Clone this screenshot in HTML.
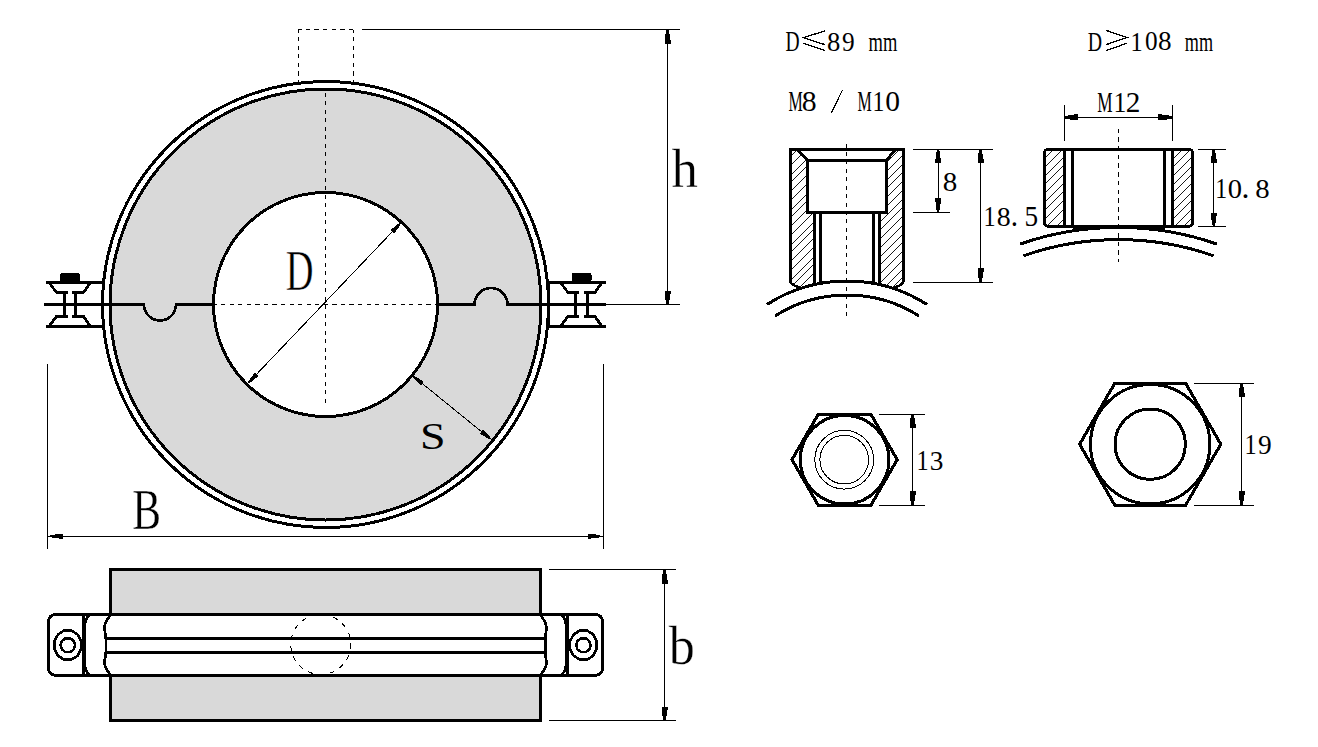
<!DOCTYPE html>
<html><head><meta charset="utf-8"><style>
html,body{margin:0;padding:0;background:#fff;width:1318px;height:747px;overflow:hidden;position:relative}
text{font-family:"Liberation Serif",serif;fill:#000}
</style></head><body>
<svg width="1318" height="747" viewBox="0 0 1318 747" style="position:absolute;left:0;top:0">
<rect x="0" y="0" width="1318" height="747" fill="#fff"/>
<g fill="none" stroke="#000" stroke-linecap="butt" shape-rendering="crispEdges">
<path d="M110.0,304.5 a215.5,215.5 0 1,0 431,0 a215.5,215.5 0 1,0 -431,0 Z M213.5,304.5 a112,112 0 1,0 224,0 a112,112 0 1,0 -224,0 Z" fill="#d9d9d9" fill-rule="evenodd" stroke="none"/>
<circle cx="325.5" cy="304.5" r="223" stroke-width="3"/>
<circle cx="325.5" cy="304.5" r="215.5" stroke-width="3"/>
<circle cx="325.5" cy="304.5" r="112" stroke-width="3"/>
<path d="M44,304.5 L144,304.5 A16,16 0 0,0 176,304.5 L213.5,304.5" stroke-width="2.6"/>
<path d="M437.5,304.5 L474.5,304.5 A16.5,16.5 0 0,1 507.5,304.5 L606,304.5" stroke-width="2.6"/>
<line x1="606" y1="304.5" x2="680" y2="304.5" stroke-width="1.0" />
<line x1="213.5" y1="304.5" x2="437.5" y2="304.5" stroke-width="1.0" stroke-dasharray="4.2 4.35" stroke-dashoffset="0.9"/>
<line x1="325.5" y1="89" x2="325.5" y2="406" stroke-width="1.0" stroke-dasharray="4.2 4.3" stroke-dashoffset="5.0"/>
<path d="M298.4,29.5 L298.4,82 M298.4,29.5 L353.5,29.5 M353.5,29.5 L353.5,82" stroke-width="1.0" stroke-dasharray="4.3 4.3" stroke-dashoffset="1.2"/>
<line x1="362" y1="29.5" x2="680" y2="29.5" stroke-width="1.0" />
<line x1="667.5" y1="29.5" x2="667.5" y2="304.5" stroke-width="1.0" />
<polygon points="666.60,29.50 665.50,33.70 664.95,39.58 664.50,39.58 664.50,43.50 670.50,43.50 670.50,39.58 670.05,39.58 669.50,33.70 668.40,29.50" fill="#000" stroke="none"/>
<polygon points="668.40,304.50 669.50,300.30 670.05,294.42 670.50,294.42 670.50,290.50 664.50,290.50 664.50,294.42 664.95,294.42 665.50,300.30 666.60,304.50" fill="#000" stroke="none"/>
<text transform="translate(671.62,186.80) scale(0.2637,0.2791)" font-size="200" stroke="#fff" stroke-width="0.35" vector-effect="non-scaling-stroke">h</text>
<line x1="400.5" y1="223.1" x2="248.4" y2="382.8" stroke-width="1.0" />
<polygon points="400.00,222.62 396.91,224.65 393.13,228.01 392.88,227.77 390.56,230.20 393.89,233.38 396.21,230.94 395.96,230.70 399.13,226.76 401.00,223.58" fill="#000" stroke="none"/>
<polygon points="248.90,383.28 251.99,381.25 255.77,377.89 256.02,378.13 258.34,375.70 255.01,372.52 252.69,374.96 252.94,375.20 249.77,379.14 247.90,382.32" fill="#000" stroke="none"/>
<text transform="translate(285.75,289.80) scale(0.1923,0.2821)" font-size="200" stroke="#fff" stroke-width="0.35" vector-effect="non-scaling-stroke">D</text>
<line x1="413.1" y1="376.1" x2="490.7" y2="439.1" stroke-width="1.0" />
<polygon points="412.67,376.64 414.93,379.56 418.58,383.06 418.36,383.33 420.97,385.45 423.87,381.88 421.26,379.76 421.04,380.03 416.86,377.18 413.53,375.56" fill="#000" stroke="none"/>
<polygon points="491.13,438.56 488.87,435.64 485.22,432.14 485.44,431.87 482.83,429.75 479.93,433.32 482.54,435.44 482.76,435.17 486.94,438.02 490.27,439.64" fill="#000" stroke="none"/>
<text transform="translate(420.01,448.62) scale(0.2302,0.1896)" font-size="200" stroke="#d9d9d9" stroke-width="0.0" vector-effect="non-scaling-stroke">S</text>
<line x1="47.5" y1="364" x2="47.5" y2="548.5" stroke-width="1.0" />
<line x1="603.2" y1="364" x2="603.2" y2="548.5" stroke-width="1.0" />
<line x1="47.5" y1="536.3" x2="603.2" y2="536.3" stroke-width="1.0" />
<polygon points="50.30,537.08 54.05,538.03 59.30,538.51 59.30,538.90 62.80,538.90 62.80,533.70 59.30,533.70 59.30,534.09 54.05,534.57 50.30,535.52" fill="#000" stroke="none"/>
<polygon points="600.40,535.52 596.65,534.57 591.40,534.09 591.40,533.70 587.90,533.70 587.90,538.90 591.40,538.90 591.40,538.51 596.65,538.03 600.40,537.08" fill="#000" stroke="none"/>
<text transform="translate(132.20,528.82) scale(0.2161,0.2818)" font-size="200" stroke="#fff" stroke-width="0.35" vector-effect="non-scaling-stroke">B</text>
<rect x="60" y="273.2" width="20" height="8.6" rx="1.5" fill="#000" stroke="none"/>
<path d="M46,282.5 L102.8,282.5" stroke-width="2.4"/>
<path d="M49,282.5 L56.5,292.5 L67.95,292.5" stroke-width="2.8"/>
<path d="M90.5,282.5 L83.5,292.5 L72.05,292.5" stroke-width="2.8"/>
<path d="M46,326.5 L102.8,326.5" stroke-width="2.4"/>
<path d="M49,326.5 L56.5,316.5 L67.95,316.5" stroke-width="2.8"/>
<path d="M90.5,326.5 L83.5,316.5 L72.05,316.5" stroke-width="2.8"/>
<line x1="64.75" y1="292.5" x2="64.75" y2="316.5" stroke-width="3" />
<line x1="75.25" y1="292.5" x2="75.25" y2="316.5" stroke-width="3" />
<line x1="102.8" y1="282.5" x2="102.8" y2="326.5" stroke-width="2.6" />
<rect x="571.5" y="273.2" width="20" height="8.6" rx="1.5" fill="#000" stroke="none"/>
<path d="M548.2,282.5 L605.5,282.5" stroke-width="2.4"/>
<path d="M560.5,282.5 L568.0,292.5 L578.6500000000001,292.5" stroke-width="2.8"/>
<path d="M602.0,282.5 L595.0,292.5 L584.3499999999999,292.5" stroke-width="2.8"/>
<path d="M548.2,326.5 L605.5,326.5" stroke-width="2.4"/>
<path d="M560.5,326.5 L568.0,316.5 L578.6500000000001,316.5" stroke-width="2.8"/>
<path d="M602.0,326.5 L595.0,316.5 L584.3499999999999,316.5" stroke-width="2.8"/>
<line x1="575.45" y1="292.5" x2="575.45" y2="316.5" stroke-width="3" />
<line x1="587.55" y1="292.5" x2="587.55" y2="316.5" stroke-width="3" />
<line x1="548.2" y1="282.5" x2="548.2" y2="326.5" stroke-width="2.6" />
<rect x="110.45" y="569.5" width="430.05" height="150.9" fill="#d9d9d9" stroke-width="3"/>
<path d="M55.5,614.5 L595.5,614.5 A7,7 0 0,1 602.5,621.5 L602.5,668.3 A7,7 0 0,1 595.5,675.3 L55.5,675.3 A7,7 0 0,1 48.5,668.3 L48.5,621.5 A7,7 0 0,1 55.5,614.5 Z" fill="#fff" stroke-width="3"/>
<line x1="83.6" y1="614.5" x2="83.6" y2="675.3" stroke-width="3" />
<line x1="567.4" y1="614.5" x2="567.4" y2="675.3" stroke-width="3" />
<path d="M90,615 Q85,618 85,626 L85,664 Q85,672 90,675" stroke-width="2.6"/>
<path d="M561,615 Q566,618 566,626 L566,664 Q566,672 561,675" stroke-width="2.6"/>
<path d="M110.5,615 Q103.5,624 104.5,630 Q105.8,634 105.8,638.6 L105.8,652.4 Q105.8,657 104.5,661 Q103.5,666 110.5,675" stroke-width="2.6"/>
<path d="M540.5,615 Q547.5,624 546.5,630 Q545.2,634 545.2,638.6 L545.2,652.4 Q545.2,657 546.5,661 Q547.5,666 540.5,675" stroke-width="2.6"/>
<line x1="105.5" y1="638.6" x2="545.5" y2="638.6" stroke-width="2.8" />
<line x1="105.5" y1="652.4" x2="545.5" y2="652.4" stroke-width="2.8" />
<polygon points="81.13,649.01 77.56,655.78 71.37,659.69 64.23,659.69 58.04,655.78 54.47,649.01 54.47,641.19 58.04,634.42 64.23,630.51 71.37,630.51 77.56,634.42 81.13,641.19" stroke-width="2.6" stroke-linejoin="round"/>
<polygon points="75.10,645.20 73.71,649.49 70.06,652.14 65.54,652.14 61.89,649.49 60.50,645.20 61.89,640.91 65.54,638.26 70.06,638.26 73.71,640.91" stroke-width="2.5" stroke-linejoin="round"/>
<polygon points="596.73,649.01 593.16,655.78 586.97,659.69 579.83,659.69 573.64,655.78 570.07,649.01 570.07,641.19 573.64,634.42 579.83,630.51 586.97,630.51 593.16,634.42 596.73,641.19" stroke-width="2.6" stroke-linejoin="round"/>
<polygon points="590.70,645.20 589.31,649.49 585.66,652.14 581.14,652.14 577.49,649.49 576.10,645.20 577.49,640.91 581.14,638.26 585.66,638.26 589.31,640.91" stroke-width="2.5" stroke-linejoin="round"/>
<circle cx="320.8" cy="644.5" r="30" stroke-width="1.0" stroke-dasharray="5 6"/>
<line x1="549" y1="569.5" x2="676" y2="569.5" stroke-width="1.0" />
<line x1="549" y1="720.5" x2="676" y2="720.5" stroke-width="1.0" />
<line x1="664.5" y1="569.5" x2="664.5" y2="720.5" stroke-width="1.0" />
<polygon points="663.60,569.50 662.50,573.70 661.95,579.58 661.50,579.58 661.50,583.50 667.50,583.50 667.50,579.58 667.05,579.58 666.50,573.70 665.40,569.50" fill="#000" stroke="none"/>
<polygon points="665.40,720.50 666.50,716.30 667.05,710.42 667.50,710.42 667.50,706.50 661.50,706.50 661.50,710.42 661.95,710.42 662.50,716.30 663.60,720.50" fill="#000" stroke="none"/>
<text transform="translate(668.80,664.25) scale(0.2609,0.2759)" font-size="200" stroke="#fff" stroke-width="0.35" vector-effect="non-scaling-stroke">b</text>
<text transform="translate(785.51,50.80) scale(0.0977,0.1435)" font-size="200" stroke="#fff" stroke-width="0.0" vector-effect="non-scaling-stroke">D</text>
<path d="M825.2,30.8 L803.4,37.7 L825.2,44.7 M803.4,43.2 L825.2,50.5" stroke-width="1.3"/>
<text transform="translate(826.93,50.52) scale(0.1333,0.1393)" font-size="200" stroke="#fff" stroke-width="0.0" vector-effect="non-scaling-stroke">8</text>
<text transform="translate(842.04,50.52) scale(0.1267,0.1403)" font-size="200" stroke="#fff" stroke-width="0.0" vector-effect="non-scaling-stroke">9</text>
<text transform="translate(868.53,50.80) scale(0.0924,0.1351)" font-size="200" stroke="#fff" stroke-width="0.0" vector-effect="non-scaling-stroke">mm</text>
<text transform="translate(1087.70,50.70) scale(0.0992,0.1412)" font-size="200" stroke="#fff" stroke-width="0.0" vector-effect="non-scaling-stroke">D</text>
<path d="M1106,30.3 L1126.7,37.5 L1106,44.7 M1106,50.7 L1126.7,43.3" stroke-width="1.3"/>
<text transform="translate(1130.41,50.70) scale(0.1214,0.1402)" font-size="200" stroke="#fff" stroke-width="0.0" vector-effect="non-scaling-stroke">1</text>
<text transform="translate(1144.89,50.43) scale(0.1262,0.1370)" font-size="200" stroke="#fff" stroke-width="0.0" vector-effect="non-scaling-stroke">0</text>
<text transform="translate(1158.01,50.43) scale(0.1357,0.1370)" font-size="200" stroke="#fff" stroke-width="0.0" vector-effect="non-scaling-stroke">8</text>
<text transform="translate(1184.84,50.70) scale(0.0908,0.1319)" font-size="200" stroke="#fff" stroke-width="0.0" vector-effect="non-scaling-stroke">mm</text>
<text transform="translate(788.42,111.10) scale(0.0801,0.1466)" font-size="200" stroke="#fff" stroke-width="0.0" vector-effect="non-scaling-stroke">M</text>
<text transform="translate(801.81,110.82) scale(0.1488,0.1422)" font-size="200" stroke="#fff" stroke-width="0.0" vector-effect="non-scaling-stroke">8</text>
<line x1="831.3" y1="113.1" x2="842.6" y2="89.9" stroke-width="1.1" />
<text transform="translate(857.42,111.10) scale(0.0801,0.1466)" font-size="200" stroke="#fff" stroke-width="0.0" vector-effect="non-scaling-stroke">M</text>
<text transform="translate(872.57,111.10) scale(0.1186,0.1455)" font-size="200" stroke="#fff" stroke-width="0.0" vector-effect="non-scaling-stroke">1</text>
<text transform="translate(885.32,110.82) scale(0.1476,0.1422)" font-size="200" stroke="#fff" stroke-width="0.0" vector-effect="non-scaling-stroke">0</text>
<clipPath id="hl"><path d="M790.6,149.4 L797.1,149.4 L807.5,160.2 L807.5,212.2 L814.3,212.2 L814.3,285 L800,287.5 Q792,285 790.6,282 Z"/></clipPath>
<clipPath id="hr"><path d="M903.3,149.4 L895.7,149.4 L886.5,160.2 L886.5,212.2 L879.8,212.2 L879.8,285 L894,287.5 Q902,285 903.3,282 Z"/></clipPath>
<path clip-path="url(#hl)" d="M634.50,295 L784.50,145 M643.25,295 L793.25,145 M652.00,295 L802.00,145 M660.75,295 L810.75,145 M669.50,295 L819.50,145 M678.25,295 L828.25,145 M687.00,295 L837.00,145 M695.75,295 L845.75,145 M704.50,295 L854.50,145 M713.25,295 L863.25,145 M722.00,295 L872.00,145 M730.75,295 L880.75,145 M739.50,295 L889.50,145 M748.25,295 L898.25,145 M757.00,295 L907.00,145 M765.75,295 L915.75,145 M774.50,295 L924.50,145 M783.25,295 L933.25,145 M792.00,295 L942.00,145 M800.75,295 L950.75,145 M809.50,295 L959.50,145 M818.25,295 L968.25,145 M827.00,295 L977.00,145" stroke-width="0.9"/>
<path clip-path="url(#hr)" d="M719.10,295 L869.10,145 M727.85,295 L877.85,145 M736.60,295 L886.60,145 M745.35,295 L895.35,145 M754.10,295 L904.10,145 M762.85,295 L912.85,145 M771.60,295 L921.60,145 M780.35,295 L930.35,145 M789.10,295 L939.10,145 M797.85,295 L947.85,145 M806.60,295 L956.60,145 M815.35,295 L965.35,145 M824.10,295 L974.10,145 M832.85,295 L982.85,145 M841.60,295 L991.60,145 M850.35,295 L1000.35,145 M859.10,295 L1009.10,145 M867.85,295 L1017.85,145 M876.60,295 L1026.60,145 M885.35,295 L1035.35,145 M894.10,295 L1044.10,145 M902.85,295 L1052.85,145 M911.60,295 L1061.60,145" stroke-width="0.9"/>
<path d="M790.6,282 L790.6,149.4 L903.3,149.4 L903.3,282" stroke-width="2.8"/>
<path d="M790.6,282 Q792,285.5 800,287.5" stroke-width="2.6"/>
<path d="M903.3,282 Q902,285.5 894,287.5" stroke-width="2.6"/>
<path d="M797.1,149.4 L807.5,160.2 L886.5,160.2 L895.7,149.4 M807.5,160.2 L807.5,212.2 L886.5,212.2 L886.5,160.2" stroke-width="2.8"/>
<line x1="814.3" y1="212.2" x2="814.3" y2="284.66" stroke-width="3" />
<line x1="820.6" y1="212.2" x2="820.6" y2="283.37" stroke-width="3" />
<line x1="873.5" y1="212.2" x2="873.5" y2="283.39" stroke-width="3" />
<line x1="879.8" y1="212.2" x2="879.8" y2="284.68" stroke-width="3" />
<path d="M767.00,304.48 A148,148 0 0,1 927.00,304.48" stroke-width="3"/>
<path d="M775.00,315.99 A134,134 0 0,1 919.00,315.99" stroke-width="3"/>
<line x1="846.4" y1="143.6" x2="846.4" y2="318" stroke-width="1.0" stroke-dasharray="4 4.43"/>
<line x1="913.3" y1="149.3" x2="992.5" y2="149.3" stroke-width="1.0" />
<line x1="913.3" y1="212.4" x2="949.7" y2="212.4" stroke-width="1.0" />
<line x1="913.3" y1="282" x2="992.5" y2="282" stroke-width="1.0" />
<line x1="938.1" y1="149.3" x2="938.1" y2="212.4" stroke-width="1.0" />
<polygon points="937.20,149.30 936.10,153.50 935.55,159.38 935.10,159.38 935.10,163.30 941.10,163.30 941.10,159.38 940.65,159.38 940.10,153.50 939.00,149.30" fill="#000" stroke="none"/>
<polygon points="939.00,212.40 940.10,208.20 940.65,202.32 941.10,202.32 941.10,198.40 935.10,198.40 935.10,202.32 935.55,202.32 936.10,208.20 937.20,212.40" fill="#000" stroke="none"/>
<line x1="980.5" y1="149.3" x2="980.5" y2="282" stroke-width="1.0" />
<polygon points="979.60,149.30 978.50,153.50 977.95,159.38 977.50,159.38 977.50,163.30 983.50,163.30 983.50,159.38 983.05,159.38 982.50,153.50 981.40,149.30" fill="#000" stroke="none"/>
<polygon points="981.40,282.00 982.50,277.80 983.05,271.92 983.50,271.92 983.50,268.00 977.50,268.00 977.50,271.92 977.95,271.92 978.50,277.80 979.60,282.00" fill="#000" stroke="none"/>
<text transform="translate(942.74,190.73) scale(0.1452,0.1363)" font-size="200" stroke="#fff" stroke-width="0.0" vector-effect="non-scaling-stroke">8</text>
<text transform="translate(983.41,226.00) scale(0.1214,0.1447)" font-size="200" stroke="#fff" stroke-width="0.0" vector-effect="non-scaling-stroke">1</text>
<text transform="translate(996.69,225.72) scale(0.1393,0.1415)" font-size="200" stroke="#fff" stroke-width="0.0" vector-effect="non-scaling-stroke">8</text>
<text transform="translate(1010.80,225.53) scale(0.1458,0.1583)" font-size="200" stroke="#fff" stroke-width="0.0" vector-effect="non-scaling-stroke">.</text>
<text transform="translate(1024.57,225.71) scale(0.1362,0.1436)" font-size="200" stroke="#fff" stroke-width="0.0" vector-effect="non-scaling-stroke">5</text>
<clipPath id="h2"><rect x="1044.4" y="149.3" width="20.1" height="77"/></clipPath><clipPath id="h3"><rect x="1172.8" y="149.3" width="19.7" height="77"/></clipPath>
<path clip-path="url(#h2)" d="M947.10,230 L1032.10,145 M955.80,230 L1040.80,145 M964.50,230 L1049.50,145 M973.20,230 L1058.20,145 M981.90,230 L1066.90,145 M990.60,230 L1075.60,145 M999.30,230 L1084.30,145 M1008.00,230 L1093.00,145 M1016.70,230 L1101.70,145 M1025.40,230 L1110.40,145 M1034.10,230 L1119.10,145 M1042.80,230 L1127.80,145 M1051.50,230 L1136.50,145 M1060.20,230 L1145.20,145 M1068.90,230 L1153.90,145 M1077.60,230 L1162.60,145" stroke-width="0.9"/>
<path clip-path="url(#h3)" d="M1075.40,230 L1160.40,145 M1084.10,230 L1169.10,145 M1092.80,230 L1177.80,145 M1101.50,230 L1186.50,145 M1110.20,230 L1195.20,145 M1118.90,230 L1203.90,145 M1127.60,230 L1212.60,145 M1136.30,230 L1221.30,145 M1145.00,230 L1230.00,145 M1153.70,230 L1238.70,145 M1162.40,230 L1247.40,145 M1171.10,230 L1256.10,145 M1179.80,230 L1264.80,145 M1188.50,230 L1273.50,145 M1197.20,230 L1282.20,145 M1205.90,230 L1290.90,145" stroke-width="0.9"/>
<rect x="1044.4" y="149.3" width="148.1" height="77" rx="3.5" stroke-width="2.8"/>
<line x1="1064.5" y1="149.3" x2="1064.5" y2="226.3" stroke-width="2.8" />
<line x1="1072.5" y1="149.3" x2="1072.5" y2="226.3" stroke-width="2.8" />
<line x1="1164.7" y1="149.3" x2="1164.7" y2="226.3" stroke-width="2.8" />
<line x1="1172.8" y1="149.3" x2="1172.8" y2="226.3" stroke-width="2.8" />
<path d="M1072.5,226.3 L1164.7,226.3 L1164.7,230.99 A299,299 0 0,0 1072.5,230.96 Z" fill="#000" stroke="none"/>
<path d="M1020.00,244.09 A299,299 0 0,1 1217.00,244.09" stroke-width="3"/>
<path d="M1023.40,255.83 A286.8,286.8 0 0,1 1213.70,255.86" stroke-width="3"/>
<line x1="1118.6" y1="128.6" x2="1118.6" y2="262" stroke-width="1.0" stroke-dasharray="4.6 4.1"/>
<line x1="1064.3" y1="105" x2="1064.3" y2="140.8" stroke-width="1.0" />
<line x1="1172.4" y1="105" x2="1172.4" y2="140.8" stroke-width="1.0" />
<line x1="1064.3" y1="117.4" x2="1172.4" y2="117.4" stroke-width="1.0" />
<polygon points="1064.30,118.30 1068.50,119.40 1074.38,119.95 1074.38,120.40 1078.30,120.40 1078.30,114.40 1074.38,114.40 1074.38,114.85 1068.50,115.40 1064.30,116.50" fill="#000" stroke="none"/>
<polygon points="1172.40,116.50 1168.20,115.40 1162.32,114.85 1162.32,114.40 1158.40,114.40 1158.40,120.40 1162.32,120.40 1162.32,119.95 1168.20,119.40 1172.40,118.30" fill="#000" stroke="none"/>
<text transform="translate(1097.28,112.10) scale(0.0861,0.1458)" font-size="200" stroke="#fff" stroke-width="0.0" vector-effect="non-scaling-stroke">M</text>
<text transform="translate(1113.59,112.10) scale(0.1286,0.1447)" font-size="200" stroke="#fff" stroke-width="0.0" vector-effect="non-scaling-stroke">1</text>
<text transform="translate(1125.68,112.10) scale(0.1463,0.1447)" font-size="200" stroke="#fff" stroke-width="0.0" vector-effect="non-scaling-stroke">2</text>
<line x1="1197.8" y1="149.3" x2="1225.8" y2="149.3" stroke-width="1.0" />
<line x1="1197.8" y1="226.5" x2="1225.8" y2="226.5" stroke-width="1.0" />
<line x1="1213.7" y1="149.3" x2="1213.7" y2="226.5" stroke-width="1.0" />
<polygon points="1212.80,149.30 1211.70,153.50 1211.15,159.38 1210.70,159.38 1210.70,163.30 1216.70,163.30 1216.70,159.38 1216.25,159.38 1215.70,153.50 1214.60,149.30" fill="#000" stroke="none"/>
<polygon points="1214.60,226.50 1215.70,222.30 1216.25,216.42 1216.70,216.42 1216.70,212.50 1210.70,212.50 1210.70,216.42 1211.15,216.42 1211.70,222.30 1212.80,226.50" fill="#000" stroke="none"/>
<text transform="translate(1215.37,198.30) scale(0.1186,0.1432)" font-size="200" stroke="#fff" stroke-width="0.0" vector-effect="non-scaling-stroke">1</text>
<text transform="translate(1227.86,198.02) scale(0.1429,0.1400)" font-size="200" stroke="#fff" stroke-width="0.0" vector-effect="non-scaling-stroke">0</text>
<text transform="translate(1241.54,197.83) scale(0.1583,0.1583)" font-size="200" stroke="#fff" stroke-width="0.0" vector-effect="non-scaling-stroke">.</text>
<text transform="translate(1255.15,198.02) scale(0.1440,0.1400)" font-size="200" stroke="#fff" stroke-width="0.0" vector-effect="non-scaling-stroke">8</text>
<polygon points="897.20,459.70 870.90,505.25 818.30,505.25 792.00,459.70 818.30,414.15 870.90,414.15" stroke-width="3.1"/>
<circle cx="844.6" cy="459.7" r="44.3" stroke-width="3"/>
<circle cx="844.2" cy="459.7" r="29.4" stroke-width="1"/>
<circle cx="844.2" cy="459.7" r="24.3" stroke-width="1"/>
<line x1="878.8" y1="414.1" x2="924.6" y2="414.1" stroke-width="1.0" />
<line x1="878.8" y1="505.3" x2="924.6" y2="505.3" stroke-width="1.0" />
<line x1="912.5" y1="414.1" x2="912.5" y2="505.3" stroke-width="1.0" />
<polygon points="911.60,414.10 910.50,418.30 909.95,424.18 909.50,424.18 909.50,428.10 915.50,428.10 915.50,424.18 915.05,424.18 914.50,418.30 913.40,414.10" fill="#000" stroke="none"/>
<polygon points="913.40,505.30 914.50,501.10 915.05,495.22 915.50,495.22 915.50,491.30 909.50,491.30 909.50,495.22 909.95,495.22 910.50,501.10 911.60,505.30" fill="#000" stroke="none"/>
<text transform="translate(916.41,470.00) scale(0.1214,0.1439)" font-size="200" stroke="#fff" stroke-width="0.0" vector-effect="non-scaling-stroke">1</text>
<text transform="translate(929.83,469.72) scale(0.1366,0.1418)" font-size="200" stroke="#fff" stroke-width="0.0" vector-effect="non-scaling-stroke">3</text>
<polygon points="1220.80,444.20 1185.50,505.34 1114.90,505.34 1079.60,444.20 1114.90,383.06 1185.50,383.06" stroke-width="3.1"/>
<circle cx="1150.2" cy="444.2" r="59.7" stroke-width="3"/>
<circle cx="1150.2" cy="444.2" r="35.2" stroke-width="3"/>
<line x1="1194.2" y1="383.2" x2="1254" y2="383.2" stroke-width="1.0" />
<line x1="1194.2" y1="505.3" x2="1254" y2="505.3" stroke-width="1.0" />
<line x1="1241.6" y1="383.2" x2="1241.6" y2="505.3" stroke-width="1.0" />
<polygon points="1240.70,383.20 1239.60,387.40 1239.05,393.28 1238.60,393.28 1238.60,397.20 1244.60,397.20 1244.60,393.28 1244.15,393.28 1243.60,387.40 1242.50,383.20" fill="#000" stroke="none"/>
<polygon points="1242.50,505.30 1243.60,501.10 1244.15,495.22 1244.60,495.22 1244.60,491.30 1238.60,491.30 1238.60,495.22 1239.05,495.22 1239.60,501.10 1240.70,505.30" fill="#000" stroke="none"/>
<text transform="translate(1244.41,453.90) scale(0.1214,0.1439)" font-size="200" stroke="#fff" stroke-width="0.0" vector-effect="non-scaling-stroke">1</text>
<text transform="translate(1258.08,453.62) scale(0.1372,0.1418)" font-size="200" stroke="#fff" stroke-width="0.0" vector-effect="non-scaling-stroke">9</text>
</g>
</svg>
</body></html>
